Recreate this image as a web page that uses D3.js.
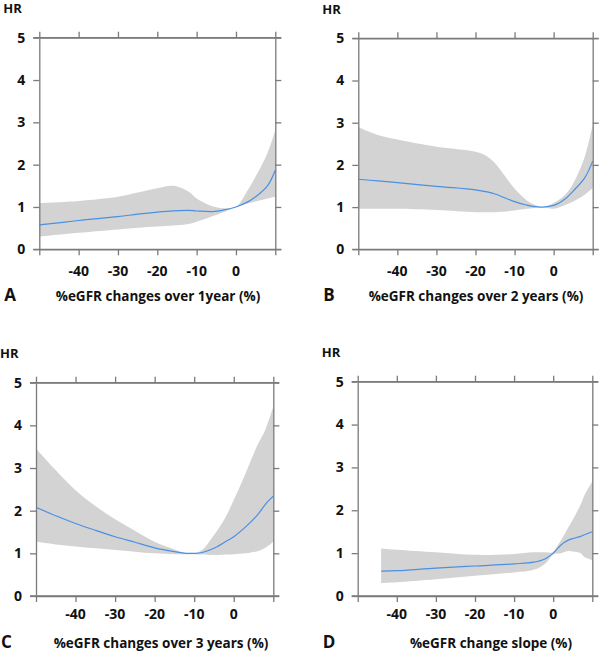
<!DOCTYPE html>
<html>
<head>
<meta charset="utf-8">
<script src="https://cdn.jsdelivr.net/npm/d3@7"></script>
<style>
  body { margin: 0; background: #fff; }
  text { font-family: "Open Sans", sans-serif; font-weight: bold; fill: #111; }
</style>
</head>
<body>
<svg id="chart" width="600" height="652"></svg>
<script>
// tick labels
var xTicks = [-40, -30, -20, -10, 0]
var yTicks = [0, 1, 2, 3, 4, 5]

// panel A: %eGFR changes over 1 year
var xA     = [-50, -40, -30, -25, -20, -16, -12, -10, -6, -3, 0, 3, 5, 8, 10]
var hrA    = [0.575, 0.68, 0.77, 0.83, 0.88, 0.91, 0.92, 0.905, 0.89, 0.93, 1.0, 1.12, 1.24, 1.5, 1.87]
var upperA = [1.09, 1.14, 1.24, 1.34, 1.44, 1.50, 1.36, 1.2, 1.02, 0.97, 1.0, 1.4, 1.72, 2.27, 2.82]
var lowerA = [0.30, 0.39, 0.47, 0.51, 0.54, 0.56, 0.60, 0.65, 0.78, 0.88, 1.0, 1.08, 1.13, 1.2, 1.24]

// panel B: over 2 years
var xB     = [-50, -45, -40, -30, -20, -17, -15, -10, -7, -5, -3, 0, 3, 5, 8, 10]
var hrB    = [1.66, 1.62, 1.58, 1.49, 1.41, 1.36, 1.31, 1.13, 1.05, 1.01, 1.0, 1.04, 1.2, 1.38, 1.7, 2.09]
var upperB = [2.89, 2.71, 2.6, 2.43, 2.31, 2.2, 2.04, 1.44, 1.17, 1.06, 1.0, 1.1, 1.3, 1.56, 2.2, 2.95]
var lowerB = [0.96, 0.96, 0.96, 0.93, 0.88, 0.88, 0.88, 0.92, 0.96, 0.98, 1.0, 0.96, 1.05, 1.13, 1.3, 1.45]

// panel C: over 3 years
var xC     = [-50, -45, -40, -35, -30, -25, -20, -15, -12, -10, -8, -5, -2, 0, 3, 6, 8, 10]
var hrC    = [2.08, 1.88, 1.70, 1.54, 1.39, 1.26, 1.13, 1.04, 1.0, 1.0, 1.02, 1.12, 1.28, 1.39, 1.62, 1.9, 2.15, 2.34]
var upperC = [3.46, 2.95, 2.48, 2.11, 1.80, 1.53, 1.27, 1.09, 1.0, 1.0, 1.08, 1.43, 1.86, 2.25, 2.88, 3.54, 3.9, 4.44]
var lowerC = [1.27, 1.21, 1.16, 1.12, 1.08, 1.04, 1.0, 0.98, 0.98, 0.98, 0.97, 0.96, 0.97, 0.98, 1.0, 1.05, 1.13, 1.27]

// panel D: change slope
var xD     = [-44, -40, -30, -20, -10, -5, -2, 0, 1, 2, 3, 4, 5, 7, 8, 10]
var hrD    = [0.58, 0.59, 0.65, 0.70, 0.75, 0.79, 0.87, 1.0, 1.1, 1.19, 1.26, 1.31, 1.34, 1.39, 1.43, 1.5]
var upperD = [1.11, 1.08, 1.02, 0.96, 0.98, 1.02, 1.02, 1.02, 1.16, 1.3, 1.46, 1.62, 1.78, 2.13, 2.35, 2.67]
var lowerD = [0.30, 0.32, 0.39, 0.47, 0.55, 0.61, 0.76, 0.97, 0.99, 1.0, 1.03, 1.05, 1.04, 1.0, 0.91, 0.84]

var panels = [
  {letter: "A", title: "%eGFR changes over 1year (%)", x: xA, hr: hrA, up: upperA, lo: lowerA,
   left: 39.3, right: 275.3, top: 37.7, bottom: 249.3, titleX: 158, labelDy: 22},
  {letter: "B", title: "%eGFR changes over 2 years (%)", x: xB, hr: hrB, up: upperB, lo: lowerB,
   left: 358.3, right: 592.7, top: 38.3, bottom: 249.3, titleX: 476, labelDy: 22},
  {letter: "C", title: "%eGFR changes over 3 years (%)", x: xC, hr: hrC, up: upperC, lo: lowerC,
   left: 36, right: 273.3, top: 382.7, bottom: 596, titleX: 161, labelDy: 18},
  {letter: "D", title: "%eGFR change slope (%)", x: xD, hr: hrD, up: upperD, lo: lowerD,
   left: 357.7, right: 592.3, top: 381.7, bottom: 596, titleX: 491, labelDy: 18}
]

var svg = d3.select("#chart")
var frameColor = "#7a7a7a"
var tick = 6

panels.forEach(function(p) {
  var x = d3.scaleLinear().domain([-50, 10]).range([p.left, p.right])
  var y = d3.scaleLinear().domain([0, 5]).range([p.bottom, p.top])
  var pts = p.x.map((v, i) => ({x: v, hr: p.hr[i], up: p.up[i], lo: p.lo[i]}))

  var g = svg.append("g")

  var area = d3.area()
    .x(d => x(d.x))
    .y0(d => y(d.lo))
    .y1(d => y(d.up))
    .curve(d3.curveCatmullRom.alpha(0.5))

  g.append("path")
    .datum(pts)
    .attr("fill", "#d3d3d3")
    .attr("d", area)

  var line = d3.line()
    .x(d => x(d.x))
    .y(d => y(d.hr))
    .curve(d3.curveCatmullRom.alpha(0.5))

  g.append("path")
    .datum(pts)
    .attr("fill", "none")
    .attr("stroke", "#4a90e2")
    .attr("stroke-width", 1.2)
    .attr("d", line)

  // frame: four axes with outward ticks
  var xt = [-50].concat(xTicks).concat([10])

  var bottomAx = d3.axisBottom(x).tickValues(xt).tickSize(tick).tickSizeOuter(0).tickFormat("")
  var topAx = d3.axisTop(x).tickValues(xt).tickSize(tick).tickSizeOuter(0).tickFormat("")
  var leftAx = d3.axisLeft(y).tickValues(yTicks).tickSize(tick).tickSizeOuter(0).tickFormat("")
  var rightAx = d3.axisRight(y).tickValues(yTicks).tickSize(tick).tickSizeOuter(0).tickFormat("")

  var axes = [
    g.append("g").attr("transform", `translate(0,${p.bottom})`).call(bottomAx),
    g.append("g").attr("transform", `translate(0,${p.top})`).call(topAx),
    g.append("g").attr("transform", `translate(${p.left},0)`).call(leftAx),
    g.append("g").attr("transform", `translate(${p.right},0)`).call(rightAx)
  ]
  axes.forEach(a => {
    a.selectAll("path, line").attr("stroke", frameColor).attr("stroke-width", 1.3)
  })

  // horizontal frame lines run past the corners
  ;[p.top, p.bottom].forEach(yy => {
    g.append("line")
      .attr("x1", p.left - tick).attr("x2", p.right + tick)
      .attr("y1", yy).attr("y2", yy)
      .attr("stroke", frameColor).attr("stroke-width", 1.3)
  })

  // tick labels
  g.selectAll(".xl").data(xTicks).enter().append("text")
    .attr("x", d => x(d))
    .attr("y", p.bottom + p.labelDy)
    .attr("dy", "0.35em")
    .attr("text-anchor", "middle")
    .style("font-size", "14px")
    .text(d => d)

  g.selectAll(".yl").data(yTicks).enter().append("text")
    .attr("x", p.left - 14)
    .attr("y", d => y(d))
    .attr("dy", "0.35em")
    .attr("text-anchor", "end")
    .style("font-size", "14px")
    .text(d => d)

  g.append("text")
    .attr("x", p.left - 36)
    .attr("y", p.top - 29)
    .attr("dy", "0.35em")
    .style("font-size", "13px")
    .text("HR")

  g.append("text")
    .attr("x", p.left - 35)
    .attr("y", p.bottom + 52)
    .style("font-size", "17px")
    .text(p.letter)

  g.append("text")
    .attr("x", p.titleX)
    .attr("y", p.bottom + 52)
    .attr("text-anchor", "middle")
    .style("font-size", "13.5px")
    .text(p.title)
})
</script>
</body>
</html>
